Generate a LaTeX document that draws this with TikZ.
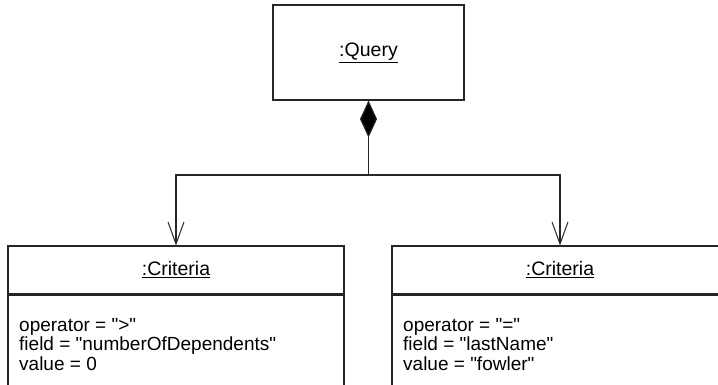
\documentclass[tikz,border=0pt]{standalone}
\usepackage{fontspec}
\setmainfont{Liberation Sans}
\usetikzlibrary{arrows.meta}
\tikzset{
  umlbox/.style={draw=black!85, line width=1.1pt, rectangle, inner sep=0pt},
  attrtext/.style={anchor=north west, align=left, inner sep=0pt, font=\fontsize{19}{19.5}\selectfont},
  conn/.style={draw=black!85, line width=1.1pt},
  openarrow/.style={-{Straight Barb[length=22pt, width=16pt, line width=1pt]}},
  diamondtip/.style={{Diamond[length=37pt, width=17pt, fill=black]}-}
}
\newcommand{\ul}[1]{\underline{#1}}
\newcommand{\q}{\textquotedbl}
\begin{document}
\begin{tikzpicture}[x=1pt,y=-1pt, font=\fontsize{19.5}{22}\selectfont]
\useasboundingbox (0,0) rectangle (718,385);
\clip (0,0) rectangle (718,385);
% Query
\node[umlbox, minimum width=191pt, minimum height=95pt] (query) at (368.5,52.5) {\ul{:Query}};
% Criteria left
\node[umlbox, minimum width=336pt, minimum height=48pt] (crit1) at (176,270) {\ul{:Criteria}};
\node[umlbox, minimum width=336pt, minimum height=110pt, anchor=north] (body1) at (crit1.south) {};
\node[attrtext] (attr1) at (19,318) {operator = \q{>}\q\\field = \q numberOfDependents\q\\value = 0};
% Criteria right
\node[umlbox, minimum width=336pt, minimum height=48pt] (crit2) at (560,270) {\ul{:Criteria}};
\node[umlbox, minimum width=336pt, minimum height=110pt, anchor=north] (body2) at (crit2.south) {};
\node[attrtext] (attr2) at (403,318) {operator = \q=\q\\field = \q lastName\q\\value = \q fowler\q};
% connectors
\coordinate (junction) at (368.5,175);
\draw[conn, diamondtip] (query.south) -- (junction);
\draw[conn, openarrow] (junction) -| (crit1.north);
\draw[conn, openarrow] (junction) -| (crit2.north);
\end{tikzpicture}
\end{document}
